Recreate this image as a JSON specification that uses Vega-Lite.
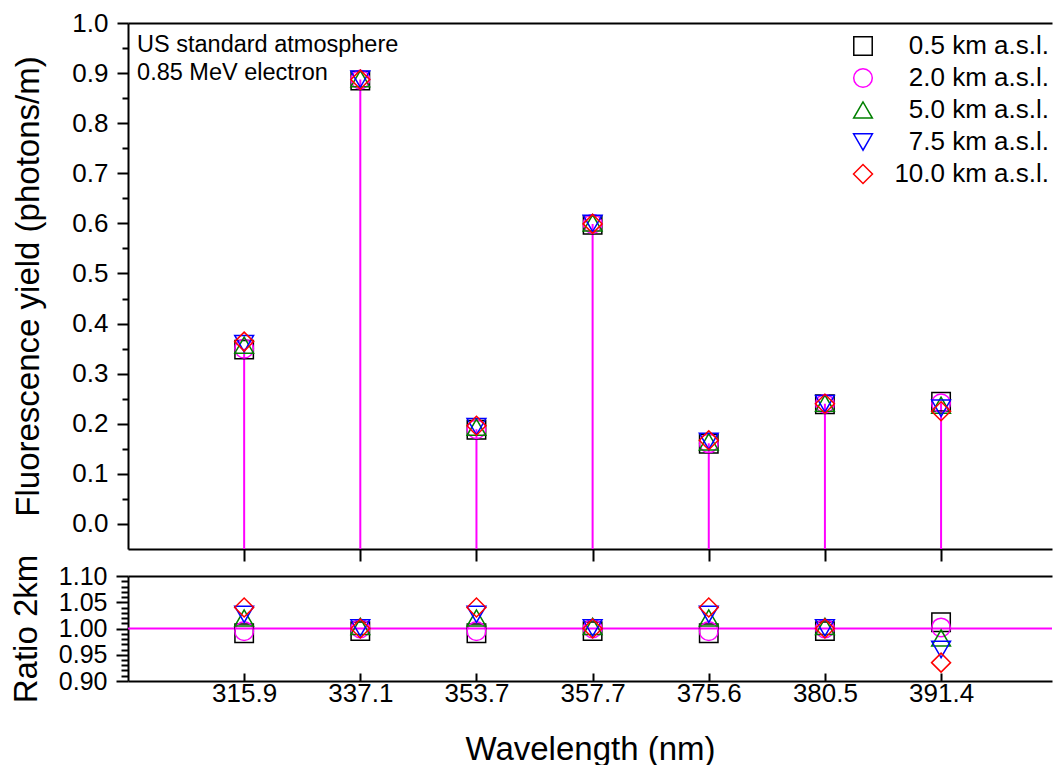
{
  "$schema": "https://vega.github.io/schema/vega-lite/v6.json",
  "padding": {"left": 10, "top": 10, "right": 0, "bottom": 0},
  "data": {"values": [
    {"wl": "315.9", "idx": 1, "alt": "0.5 km a.s.l.", "yield": 0.348, "ratio": 0.991},
    {"wl": "315.9", "idx": 1, "alt": "2.0 km a.s.l.", "yield": 0.350, "ratio": 0.995},
    {"wl": "315.9", "idx": 1, "alt": "5.0 km a.s.l.", "yield": 0.357, "ratio": 1.020},
    {"wl": "315.9", "idx": 1, "alt": "7.5 km a.s.l.", "yield": 0.360, "ratio": 1.027},
    {"wl": "315.9", "idx": 1, "alt": "10.0 km a.s.l.", "yield": 0.364, "ratio": 1.040},
    {"wl": "337.1", "idx": 2, "alt": "0.5 km a.s.l.", "yield": 0.885, "ratio": 0.995},
    {"wl": "337.1", "idx": 2, "alt": "2.0 km a.s.l.", "yield": 0.887, "ratio": 1.000},
    {"wl": "337.1", "idx": 2, "alt": "5.0 km a.s.l.", "yield": 0.889, "ratio": 1.004},
    {"wl": "337.1", "idx": 2, "alt": "7.5 km a.s.l.", "yield": 0.888, "ratio": 1.001},
    {"wl": "337.1", "idx": 2, "alt": "10.0 km a.s.l.", "yield": 0.887, "ratio": 1.000},
    {"wl": "353.7", "idx": 3, "alt": "0.5 km a.s.l.", "yield": 0.188, "ratio": 0.991},
    {"wl": "353.7", "idx": 3, "alt": "2.0 km a.s.l.", "yield": 0.189, "ratio": 0.995},
    {"wl": "353.7", "idx": 3, "alt": "5.0 km a.s.l.", "yield": 0.193, "ratio": 1.020},
    {"wl": "353.7", "idx": 3, "alt": "7.5 km a.s.l.", "yield": 0.194, "ratio": 1.027},
    {"wl": "353.7", "idx": 3, "alt": "10.0 km a.s.l.", "yield": 0.196, "ratio": 1.040},
    {"wl": "357.7", "idx": 4, "alt": "0.5 km a.s.l.", "yield": 0.597, "ratio": 0.995},
    {"wl": "357.7", "idx": 4, "alt": "2.0 km a.s.l.", "yield": 0.599, "ratio": 1.000},
    {"wl": "357.7", "idx": 4, "alt": "5.0 km a.s.l.", "yield": 0.601, "ratio": 1.004},
    {"wl": "357.7", "idx": 4, "alt": "7.5 km a.s.l.", "yield": 0.600, "ratio": 1.001},
    {"wl": "357.7", "idx": 4, "alt": "10.0 km a.s.l.", "yield": 0.599, "ratio": 1.000},
    {"wl": "375.6", "idx": 5, "alt": "0.5 km a.s.l.", "yield": 0.160, "ratio": 0.991},
    {"wl": "375.6", "idx": 5, "alt": "2.0 km a.s.l.", "yield": 0.161, "ratio": 0.995},
    {"wl": "375.6", "idx": 5, "alt": "5.0 km a.s.l.", "yield": 0.164, "ratio": 1.020},
    {"wl": "375.6", "idx": 5, "alt": "7.5 km a.s.l.", "yield": 0.165, "ratio": 1.027},
    {"wl": "375.6", "idx": 5, "alt": "10.0 km a.s.l.", "yield": 0.167, "ratio": 1.040},
    {"wl": "380.5", "idx": 6, "alt": "0.5 km a.s.l.", "yield": 0.239, "ratio": 0.995},
    {"wl": "380.5", "idx": 6, "alt": "2.0 km a.s.l.", "yield": 0.240, "ratio": 1.000},
    {"wl": "380.5", "idx": 6, "alt": "5.0 km a.s.l.", "yield": 0.241, "ratio": 1.004},
    {"wl": "380.5", "idx": 6, "alt": "7.5 km a.s.l.", "yield": 0.240, "ratio": 1.001},
    {"wl": "380.5", "idx": 6, "alt": "10.0 km a.s.l.", "yield": 0.240, "ratio": 1.000},
    {"wl": "391.4", "idx": 7, "alt": "0.5 km a.s.l.", "yield": 0.244, "ratio": 1.012},
    {"wl": "391.4", "idx": 7, "alt": "2.0 km a.s.l.", "yield": 0.241, "ratio": 1.002},
    {"wl": "391.4", "idx": 7, "alt": "5.0 km a.s.l.", "yield": 0.237, "ratio": 0.982},
    {"wl": "391.4", "idx": 7, "alt": "7.5 km a.s.l.", "yield": 0.231, "ratio": 0.960},
    {"wl": "391.4", "idx": 7, "alt": "10.0 km a.s.l.", "yield": 0.225, "ratio": 0.935}
  ]},
  "spacing": 27,
  "bounds": "flush",
  "vconcat": [
    {
      "width": 924,
      "height": 526,
      "layer": [
        {
          "transform": [{"filter": "datum.alt === '2.0 km a.s.l.'"}],
          "mark": {"type": "rule", "color": "#ff00ff", "strokeWidth": 2},
          "encoding": {
            "x": {"field": "idx", "type": "quantitative",
                  "scale": {"domain": [0, 7.955], "nice": false, "zero": false},
                  "axis": {"orient": "bottom", "values": [1, 2, 3, 4, 5, 6, 7], "labels": false, "tickSize": 12, "title": null}},
            "y": {"field": "yield", "type": "quantitative",
                  "scale": {"domain": [-0.05, 1.0], "nice": false, "zero": false},
                  "axis": {"orient": "left", "values": [0, 0.1, 0.2, 0.3, 0.4, 0.5, 0.6, 0.7, 0.8, 0.9, 1.0], "format": ".1f",
                           "tickSize": 11, "labelPadding": 9, "labelOverlap": false, "labelFlush": false,
                           "title": "Fluorescence yield (photons/m)", "titlePadding": 26}},
            "y2": {"datum": -0.05}
          }
        },
        {
          "mark": {"type": "point", "filled": false, "strokeWidth": 1.5, "opacity": 1},
          "encoding": {
            "x": {"field": "idx", "type": "quantitative",
                  "axis": {"orient": "top", "ticks": false, "labels": false, "title": null}},
            "y": {"field": "yield", "type": "quantitative",
                  "axis": {"orient": "left", "values": [0.05, 0.15, 0.25, 0.35, 0.45, 0.55, 0.65, 0.75, 0.85, 0.95],
                           "labels": false, "domain": false, "tickSize": 6, "title": null}},
            "color": {"field": "alt", "type": "nominal",
                      "scale": {"domain": ["0.5 km a.s.l.", "2.0 km a.s.l.", "5.0 km a.s.l.", "7.5 km a.s.l.", "10.0 km a.s.l."],
                                "range": ["#000000", "#ff00ff", "#008000", "#0000ff", "#ff0000"]},
                      "legend": {"title": null, "orient": "none", "legendX": 722, "legendY": 10, "labelAlign": "right", "labelOffset": 173}},
            "shape": {"field": "alt", "type": "nominal",
                      "scale": {"domain": ["0.5 km a.s.l.", "2.0 km a.s.l.", "5.0 km a.s.l.", "7.5 km a.s.l.", "10.0 km a.s.l."],
                                "range": ["square", "circle", "triangle-up", "triangle-down", "diamond"]},
                      "legend": {"title": null, "orient": "none", "legendX": 722, "legendY": 10, "labelAlign": "right", "labelOffset": 173}},
            "size": {"field": "alt", "type": "nominal",
                     "scale": {"domain": ["0.5 km a.s.l.", "2.0 km a.s.l.", "5.0 km a.s.l.", "7.5 km a.s.l.", "10.0 km a.s.l."],
                               "range": [340, 360, 620, 620, 640]},
                     "legend": {"title": null, "orient": "none", "legendX": 722, "legendY": 10, "labelAlign": "right", "labelOffset": 173}}
          }
        },
        {
          "data": {"values": [{"note": "US standard atmosphere"}]},
          "mark": {"type": "text", "align": "left", "baseline": "middle", "fontSize": 23.5, "color": "#000000"},
          "encoding": {
            "x": {"datum": 0.078, "type": "quantitative", "axis": null},
            "y": {"datum": 0.956, "type": "quantitative", "axis": null},
            "text": {"field": "note"}
          }
        },
        {
          "data": {"values": [{"note": "0.85 MeV electron"}]},
          "mark": {"type": "text", "align": "left", "baseline": "middle", "fontSize": 23.5, "color": "#000000"},
          "encoding": {
            "x": {"datum": 0.078, "type": "quantitative", "axis": null},
            "y": {"datum": 0.900, "type": "quantitative", "axis": null},
            "text": {"field": "note"}
          }
        }
      ],
      "resolve": {"axis": {"x": "independent", "y": "independent"}}
    },
    {
      "width": 924,
      "height": 105,
      "layer": [
        {
          "data": {"values": [{"ref": 1}]},
          "mark": {"type": "rule", "color": "#ff00ff", "strokeWidth": 2},
          "encoding": {
            "x": {"datum": 0, "type": "quantitative",
                  "scale": {"domain": [0, 7.955], "nice": false, "zero": false},
                  "axis": {"orient": "top", "ticks": false, "labels": false, "title": null}},
            "x2": {"datum": 7.955},
            "y": {"field": "ref", "type": "quantitative",
                  "scale": {"domain": [0.9, 1.1], "nice": false, "zero": false},
                  "axis": {"orient": "left", "values": [0.9, 0.95, 1.0, 1.05, 1.1], "format": ".2f",
                           "tickSize": 12, "labelPadding": 9, "labelFontSize": 25, "labelOverlap": false, "labelFlush": false,
                           "title": "Ratio 2km", "titlePadding": 15}}
          }
        },
        {
          "mark": {"type": "point", "filled": false, "strokeWidth": 1.5, "opacity": 1},
          "encoding": {
            "x": {"field": "idx", "type": "quantitative",
                  "axis": {"orient": "bottom", "values": [1, 2, 3, 4, 5, 6, 7],
                           "labelExpr": "['', '315.9', '337.1', '353.7', '357.7', '375.6', '380.5', '391.4'][datum.value]",
                           "tickSize": -8, "labelPadding": 7, "labelOverlap": false, "labelFlush": false,
                           "title": "Wavelength (nm)", "titlePadding": 27}},
            "y": {"field": "ratio", "type": "quantitative",
                  "axis": {"orient": "left", "values": [0.91, 0.92, 0.93, 0.94, 0.96, 0.97, 0.98, 0.99, 1.01, 1.02, 1.03, 1.04, 1.06, 1.07, 1.08, 1.09],
                           "labels": false, "domain": false, "tickSize": 7, "title": null}},
            "color": {"field": "alt", "type": "nominal",
                      "scale": {"domain": ["0.5 km a.s.l.", "2.0 km a.s.l.", "5.0 km a.s.l.", "7.5 km a.s.l.", "10.0 km a.s.l."],
                                "range": ["#000000", "#ff00ff", "#008000", "#0000ff", "#ff0000"]},
                      "legend": null},
            "shape": {"field": "alt", "type": "nominal",
                      "scale": {"domain": ["0.5 km a.s.l.", "2.0 km a.s.l.", "5.0 km a.s.l.", "7.5 km a.s.l.", "10.0 km a.s.l."],
                                "range": ["square", "circle", "triangle-up", "triangle-down", "diamond"]},
                      "legend": null},
            "size": {"field": "alt", "type": "nominal",
                     "scale": {"domain": ["0.5 km a.s.l.", "2.0 km a.s.l.", "5.0 km a.s.l.", "7.5 km a.s.l.", "10.0 km a.s.l."],
                               "range": [340, 360, 620, 620, 640]},
                     "legend": null}
          }
        }
      ],
      "resolve": {"axis": {"x": "independent", "y": "independent"}}
    }
  ],
  "resolve": {"scale": {"color": "independent", "shape": "independent", "size": "independent"}},
  "config": {
    "font": "Liberation Sans",
    "view": {"stroke": null},
    "axis": {
      "grid": false,
      "domainColor": "#000000", "domainWidth": 2,
      "tickColor": "#000000", "tickWidth": 2,
      "labelColor": "#000000", "labelFontSize": 26, "labelFont": "Liberation Sans",
      "titleColor": "#000000", "titleFontSize": 33, "titleFontWeight": "normal", "titleFont": "Liberation Sans"
    },
    "legend": {
      "labelFont": "Liberation Sans", "labelFontSize": 26, "labelColor": "#000000",
      "symbolStrokeWidth": 1.5, "rowPadding": 6, "padding": 0
    }
  }
}
